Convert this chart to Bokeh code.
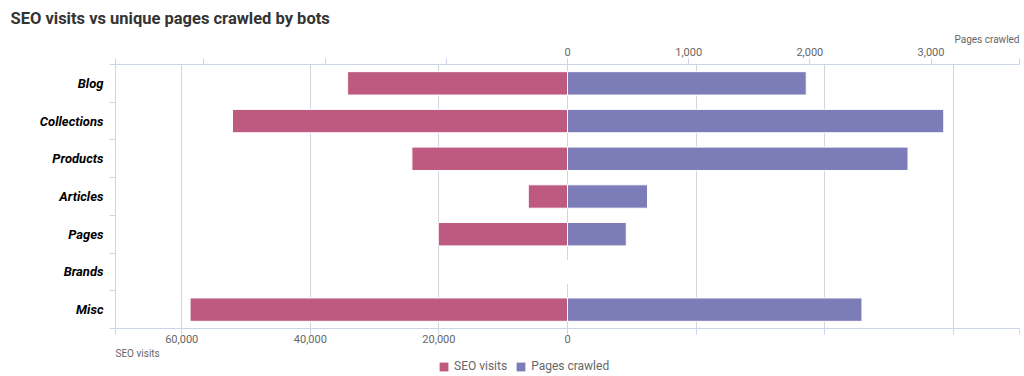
from bokeh.plotting import figure
from bokeh.layouts import column
from bokeh.models import Range1d, LinearAxis, FixedTicker, Grid, Title, Legend, LegendItem, ColumnDataSource
from bokeh.embed import file_html
from bokeh.resources import INLINE

# ---- data ----
categories = ["Blog", "Collections", "Products", "Articles", "Pages", "Brands", "Misc"]
seo_visits = [34200, 52100, 24200, 6100, 20100, 0, 58700]
pages_crawled = [1970, 3105, 2810, 660, 485, 0, 2430]

visit_ticks = [-60000, -40000, -20000, 0, 20000, 40000, 60000]
visit_tick_labels = ["60,000", "40,000", "20,000", "0", "", "", ""]
page_ticks = [-3000, -2000, -1000, 0, 1000, 2000, 3000]
page_tick_labels = ["", "", "", "0", "1,000", "2,000", "3,000"]

title_text = "SEO visits vs unique pages crawled by bots"
visits_name = "SEO visits"
pages_name = "Pages crawled"

VISIT_MAX = 70300
PAGE_MAX = 3730

n = len(categories)
ypos = [n - i - 0.5 for i in range(n)]
src = ColumnDataSource(dict(
    y=ypos,
    visits_left=[-v for v in seo_visits],
    pages=pages_crawled,
))

PINK = "#BE5A7F"
PURPLE = "#7C7CB9"
AXIS = "#CCD6EB"
GRID = "#D0D5DF"
TXT = "#666666"
FONT = "Roboto"

p = figure(width=1024, height=360, output_backend="svg", toolbar_location=None,
           x_range=Range1d(-VISIT_MAX, VISIT_MAX), y_range=Range1d(0, n),
           x_axis_type=None, y_axis_type=None,
           min_border_left=115, min_border_right=5, min_border_top=64, min_border_bottom=32)
p.extra_x_ranges = {"pages": Range1d(-PAGE_MAX, PAGE_MAX)}
p.outline_line_color = None
p.background_fill_color = "white"
p.border_fill_color = "white"

r1 = p.hbar(y="y", left="visits_left", right=0, height=0.62, source=src,
            fill_color=PINK, line_color="white", line_width=1)
r2 = p.hbar(y="y", left=0, right="pages", height=0.62, source=src, x_range_name="pages",
            fill_color=PURPLE, line_color="white", line_width=1)

grid = Grid(dimension=0, ticker=FixedTicker(ticks=visit_ticks), grid_line_color=GRID, grid_line_width=1)
p.add_layout(grid)

def style_axis(ax):
    ax.axis_line_color = AXIS
    ax.major_tick_line_color = AXIS
    ax.minor_tick_line_color = None
    ax.major_label_text_color = TXT
    ax.major_label_text_font = FONT
    ax.major_label_text_font_size = "11px"
    ax.major_tick_in = 0
    ax.major_tick_out = 6

yax = LinearAxis(ticker=FixedTicker(ticks=ypos, minor_ticks=list(range(n + 1))),
                 major_label_overrides={y: c for y, c in zip(ypos, categories)})
style_axis(yax)
yax.major_tick_line_color = None
yax.minor_tick_line_color = AXIS
yax.minor_tick_in = 0
yax.minor_tick_out = 6
yax.major_label_text_color = "black"
yax.major_label_text_font_style = "bold italic"
yax.major_label_text_font_size = "13px"
yax.major_label_standoff = 6
p.add_layout(yax, "left")

bax = LinearAxis(ticker=FixedTicker(ticks=[-VISIT_MAX] + visit_ticks + [VISIT_MAX]),
                 major_label_overrides={**{t: l for t, l in zip(visit_ticks, visit_tick_labels)},
                                        -VISIT_MAX: "", VISIT_MAX: ""})
style_axis(bax)
bax.major_label_standoff = 0
p.add_layout(bax, "below")

tax = LinearAxis(x_range_name="pages",
                 ticker=FixedTicker(ticks=[-PAGE_MAX] + page_ticks + [PAGE_MAX]),
                 major_label_overrides={**{t: l for t, l in zip(page_ticks, page_tick_labels)},
                                        -PAGE_MAX: "", PAGE_MAX: ""})
style_axis(tax)
tax.major_label_standoff = 3
p.add_layout(tax, "above")

p.add_layout(Title(text=pages_name, align="right", text_font=FONT, text_font_size="10px",
                   text_color=TXT, text_font_style="normal", standoff=0), "above")
p.add_layout(Title(text=title_text, align="left", text_font=FONT, text_font_size="16.5px",
                   text_color="#333333", text_font_style="bold", offset=-105, standoff=7), "above")
p.add_layout(Title(text=visits_name, align="left", text_font=FONT, text_font_size="10px",
                   text_color=TXT, text_font_style="normal", standoff=0), "below")

# legend strip below the chart (proxy bars drawn off-view, only their legend swatches show)
lg = figure(width=1024, height=16, output_backend="svg", toolbar_location=None,
            x_range=Range1d(-VISIT_MAX, VISIT_MAX), y_range=Range1d(100, 101),
            x_axis_type=None, y_axis_type=None, min_border=0)
lg.outline_line_color = None
lg.xgrid.visible = False
lg.ygrid.visible = False
d1 = lg.hbar(y="y", left="visits_left", right=0, height=0.62, source=src,
             fill_color=PINK, line_color=None)
d2 = lg.hbar(y="y", left=0, right="pages", height=0.62, source=src,
             fill_color=PURPLE, line_color=None)
legend = Legend(items=[LegendItem(label=visits_name, renderers=[d1]),
                       LegendItem(label=pages_name, renderers=[d2])],
                orientation="horizontal", location=(323, 3),
                border_line_color=None, background_fill_alpha=0,
                glyph_width=11, glyph_height=11, label_text_font=FONT,
                label_text_font_size="12px", label_text_color=TXT,
                label_height=12, label_text_baseline="middle",
                spacing=8, padding=0, margin=0, label_standoff=5)
lg.add_layout(legend)

open("out.html", "w").write(file_html(column(p, lg, spacing=0), INLINE))
